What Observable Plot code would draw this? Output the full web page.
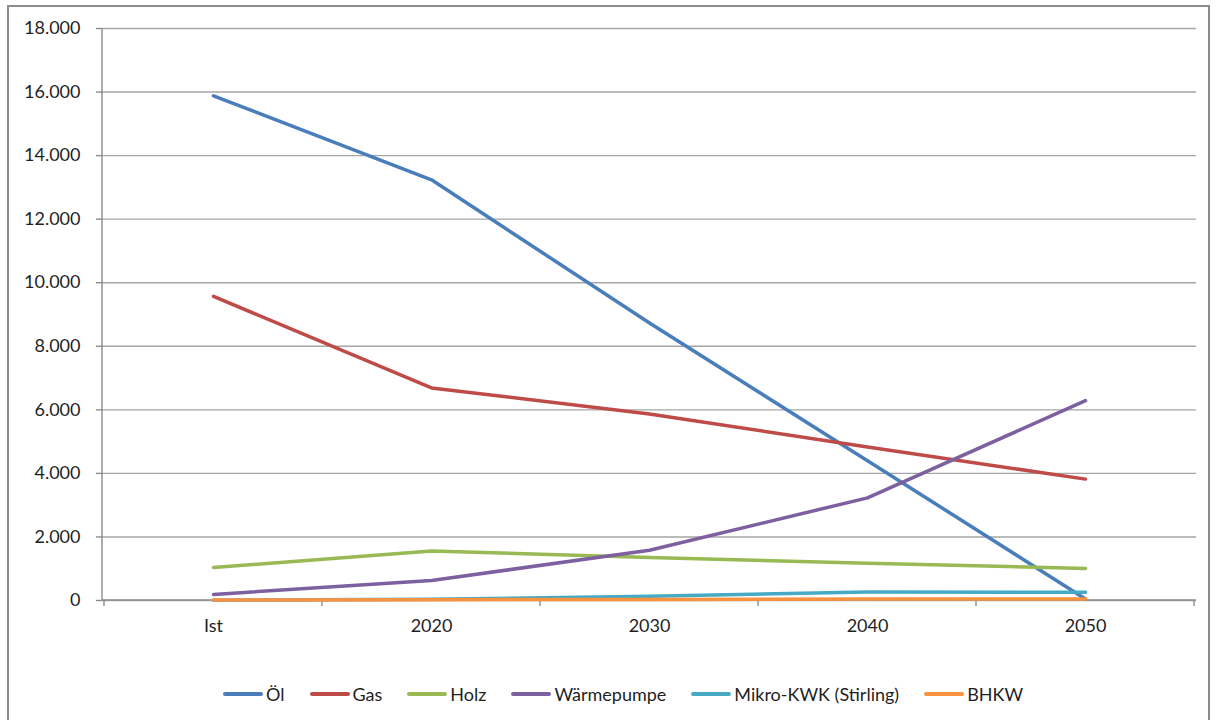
<!DOCTYPE html>
<html lang="de">
<head>
<meta charset="utf-8">
<title>Wärmeerzeuger</title>
<script src="https://cdn.jsdelivr.net/npm/d3@7"></script>
<script src="https://cdn.jsdelivr.net/npm/@observablehq/plot@0.6"></script>
<style>
  html, body { margin: 0; padding: 0; background: #fff; }
  body { width: 1217px; height: 720px; position: relative; overflow: hidden; font-family: Lato, "Noto Sans", sans-serif; }
  #frame { position: absolute; left: 7px; top: 5px; width: 1203px; height: 740px; box-sizing: border-box; border: 2px solid #8c8c8c; }
  #chart { position: absolute; left: 0; top: 0; }
  #legend { position: absolute; left: 223px; top: 683px; display: flex; align-items: center; gap: 25px; font-size: 18px; color: #1f1f1f; height: 22px; white-space: nowrap; }
  #legend .item { display: flex; align-items: center; }
  #legend .swatch { width: 40px; height: 3.5px; border-radius: 2px; margin-right: 3px; }
</style>
</head>
<body>
<div id="frame"></div>
<div id="chart"></div>
<div id="legend"></div>
<script>
// Categories on the horizontal axis
const categories = ["Ist", "2020", "2030", "2040", "2050"];

// Series names and values per category
const seriesNames = ["Öl", "Gas", "Holz", "Wärmepumpe", "Mikro-KWK (Stirling)", "BHKW"];
const oel        = [15880, 13240, 8730, 4400, 50];
const gas        = [9570, 6690, 5870, 4830, 3820];
const holz       = [1040, 1560, 1350, 1170, 1010];
const waermepumpe = [190, 630, 1580, 3230, 6290];
const mikroKwk   = [10, 40, 130, 270, 260];
const bhkw       = [15, 25, 35, 45, 50];

// Vertical axis ticks
const yTicks = [0, 2000, 4000, 6000, 8000, 10000, 12000, 14000, 16000, 18000];

// Series colours
const seriesColors = ["#4a7ebb", "#be4b48", "#98b954", "#7d60a0", "#46aac5", "#f69240"];

const seriesValues = [oel, gas, holz, waermepumpe, mikroKwk, bhkw];
const rows = seriesNames.flatMap((name, i) =>
  categories.map((cat, j) => ({series: name, cat, value: seriesValues[i][j]}))
);

const gridColor = "#a6a6a6";
const axisColor = "#8c8c8c";
const textColor = "#1f1f1f";

const de = d3.formatLocale({decimal: ",", thousands: ".", grouping: [3], currency: ["", " €"]});
const fmt = de.format(",");

// Axis lines plus category boundary ticks, placed from the x scale
function categoryFrame(index, scales, values, dims) {
  const {x, y} = scales;
  const step = x(categories[1]) - x(categories[0]);
  const y0 = y(0);
  const g = d3.create("svg:g")
    .attr("stroke", axisColor)
    .attr("stroke-width", 1.4)
    .attr("fill", "none");
  g.append("line")
    .attr("x1", dims.marginLeft).attr("x2", dims.marginLeft)
    .attr("y1", dims.marginTop).attr("y2", y0);
  g.append("line")
    .attr("x1", dims.marginLeft).attr("x2", dims.width - dims.marginRight)
    .attr("y1", y0).attr("y2", y0);
  const edges = [x(categories[0]) - step / 2, ...categories.map((c) => x(c) + step / 2)];
  for (const e of edges) {
    g.append("line").attr("x1", e).attr("x2", e).attr("y1", y0).attr("y2", y0 + 6);
  }
  return g.node();
}

const chart = Plot.plot({
  width: 1217,
  height: 650,
  marginLeft: 102,
  marginRight: 21,
  marginTop: 28,
  marginBottom: 50,
  style: {fontFamily: "Lato, 'Noto Sans', sans-serif", fontSize: "18px", color: textColor, background: "transparent"},
  x: {type: "point", domain: categories, padding: 0.5, axis: null},
  y: {domain: [0, 18000], axis: null},
  color: {domain: seriesNames, range: seriesColors},
  marks: [
    Plot.gridY(yTicks, {stroke: gridColor, strokeOpacity: 1, strokeWidth: 1.4}),
    Plot.axisY(yTicks, {tickSize: 6, tickPadding: 16, tickFormat: fmt, stroke: axisColor, strokeWidth: 1.4, fill: textColor, label: null}),
    Plot.axisX({tickSize: 0, tickPadding: 19, fill: textColor, label: null}),
    categoryFrame,
    Plot.line(rows, {x: "cat", y: "value", z: "series", stroke: "series", strokeWidth: 3.5, strokeLinejoin: "round", strokeLinecap: "round"})
  ]
});
document.getElementById("chart").appendChild(chart);

// Legend below the plot
const legend = d3.select("#legend");
seriesNames.forEach((name, i) => {
  const item = legend.append("div").attr("class", "item");
  item.append("span").attr("class", "swatch").style("background", seriesColors[i]);
  item.append("span").text(name);
});
</script>
</body>
</html>
